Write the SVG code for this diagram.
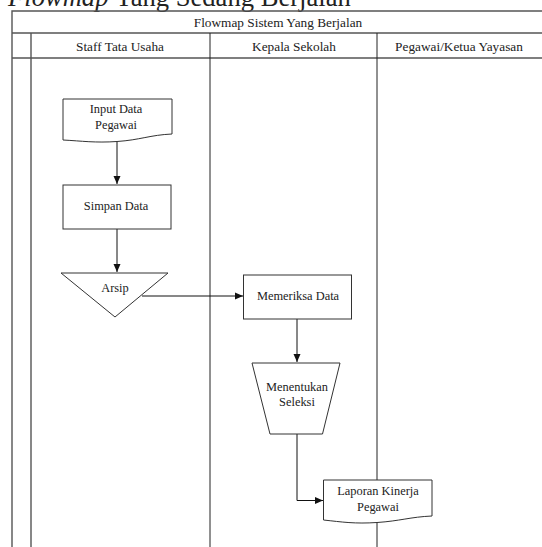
<svg xmlns="http://www.w3.org/2000/svg" width="542" height="547" viewBox="0 0 542 547">
  <style>
    text { font-family: "Liberation Serif", "Times New Roman", serif; fill: #222; }
    .grid { stroke: #555; stroke-width: 1.4; fill: none; }
    .lane { stroke: #222; stroke-width: 1; fill: none; }
    .shape { stroke: #333; stroke-width: 1; fill: #fff; }
    .edge { stroke: #111; stroke-width: 1; fill: none; }
    .hd { font-size: 13.3px; text-anchor: middle; }
    .lbl { font-size: 12.4px; text-anchor: middle; }
  </style>
  <defs>
    <marker id="arrow" viewBox="0 0 8 8" refX="8" refY="4" markerWidth="8" markerHeight="8" markerUnits="userSpaceOnUse" orient="auto">
      <path d="M0,0.5 L8,4 L0,7.5 Z" fill="#111"/>
    </marker>
  </defs>

  <rect width="542" height="547" fill="#fff"/>

  <!-- page heading, partly above the top edge -->
  <text x="8" y="6" font-size="26.6"><tspan font-style="italic">Flowmap</tspan> Yang Sedang Berjalan</text>

  <!-- swimlane table -->
  <g id="table">
    <path class="grid" d="M12,547 V11 H560 M12,33 H560 M31,33 V547 M12,58 H560"/>
    <path class="lane" d="M210,33 V547 M377,33 V547"/>
    <text class="hd" x="278" y="26.5">Flowmap Sistem Yang Berjalan</text>
    <text class="hd" x="120" y="50.5">Staff Tata Usaha</text>
    <text class="hd" x="294" y="50.5">Kepala Sekolah</text>
    <text class="hd" x="459" y="50.5">Pegawai/Ketua Yayasan</text>
  </g>

  <!-- connectors -->
  <g id="connectors">
    <path class="edge" d="M117,142 V184" marker-end="url(#arrow)"/>
    <path class="edge" d="M117,229 V272" marker-end="url(#arrow)"/>
    <path class="edge" d="M142,296 H243" marker-end="url(#arrow)"/>
    <path class="edge" d="M297,319 V362" marker-end="url(#arrow)"/>
    <path class="edge" d="M297,434 V500.5 H323" marker-end="url(#arrow)"/>
  </g>

  <g id="input-data-pegawai">
    <path class="shape" d="M63,99 H172 V134 C150,135 140,140 117,141.5 C95,143 82,141 63,140 Z"/>
    <text class="lbl" x="116" y="113">Input Data</text>
    <text class="lbl" x="116" y="128.5">Pegawai</text>
  </g>

  <g id="simpan-data">
    <rect class="shape" x="63" y="185" width="108" height="44"/>
    <text class="lbl" x="116" y="210">Simpan Data</text>
  </g>

  <g id="arsip">
    <path class="shape" d="M61,273 H168 L115,317 Z"/>
    <text class="lbl" x="115" y="292">Arsip</text>
  </g>

  <g id="memeriksa-data">
    <rect class="shape" x="243.5" y="275" width="108" height="44"/>
    <text class="lbl" x="298" y="300">Memeriksa Data</text>
  </g>

  <g id="menentukan-seleksi">
    <path class="shape" d="M252,363 H340 L322.5,434 H270 Z"/>
    <text class="lbl" x="297" y="390.5">Menentukan</text>
    <text class="lbl" x="297" y="406">Seleksi</text>
  </g>

  <g id="laporan-kinerja-pegawai">
    <path class="shape" d="M323.5,480 H432 V516 C410,517 400,521 377,522.5 C355,524 342,522 323.5,520 Z"/>
    <text class="lbl" x="378" y="494.5">Laporan Kinerja</text>
    <text class="lbl" x="378" y="510.5">Pegawai</text>
  </g>
</svg>
